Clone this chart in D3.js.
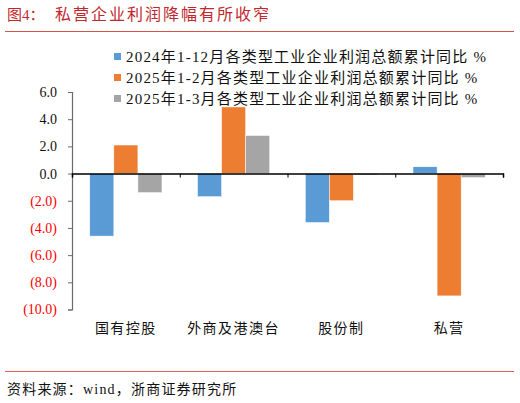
<!DOCTYPE html>
<html lang="zh">
  <head>
    <meta charset="utf-8"/>
    <title>私营企业利润降幅有所收窄</title>
    <script src="https://d3js.org/d3.v7.min.js"></script>
    <style>
      body { margin: 0; background: #fff; }
      svg text { font-family: "Liberation Serif", "Noto Sans CJK SC", serif; }
    </style>
  </head>
  <body>
    <div id="chart"></div>
<script>
  const categories = ["国有控股", "外商及港澳台", "股份制", "私营"];
  const seriesNames = [
    "2024年1-12月各类型工业企业利润总额累计同比 %",
    "2025年1-2月各类型工业企业利润总额累计同比 %",
    "2025年1-3月各类型工业企业利润总额累计同比 %"
  ];
  const fy2024 = [-4.6, -1.7, -3.6, 0.5];
  const jan2feb2025 = [2.1, 4.9, -2.0, -9.0];
  const jan3mar2025 = [-1.4, 2.8, -0.1, -0.3];
  const yTicks = [-10, -8, -6, -4, -2, 0, 2, 4, 6];
  const colors = ["#5B9BD5", "#ED7D31", "#A5A5A5"];

  const width = 520, height = 403;
  const values = [fy2024, jan2feb2025, jan3mar2025];

  const svg = d3.select("#chart").append("svg")
      .attr("width", width)
      .attr("height", height);

  // header
  svg.append("text")
      .attr("x", 7).attr("y", 20)
      .attr("fill", "#C1272D")
      .attr("font-size", 15)
      .text("图4：");
  svg.append("text")
      .attr("x", 55).attr("y", 20)
      .attr("fill", "#C1272D")
      .attr("font-size", 16)
      .attr("letter-spacing", 2)
      .text("私营企业利润降幅有所收窄");
  svg.append("line")
      .attr("x1", 5).attr("x2", 514)
      .attr("y1", 31.5).attr("y2", 31.5)
      .attr("stroke", "#D9534F").attr("stroke-width", 1);

  // legend
  const legend = svg.append("g").selectAll("g")
    .data(seriesNames)
    .join("g")
      .attr("transform", (d, i) => `translate(114, ${57 + i * 21})`);
  legend.append("rect")
      .attr("x", 0).attr("y", -4)
      .attr("width", 7).attr("height", 7)
      .attr("fill", (d, i) => colors[i]);
  legend.append("text")
      .attr("x", 12).attr("y", 5)
      .attr("font-size", 15)
      .attr("letter-spacing", 1.2)
      .attr("fill", "#111")
      .text(d => d);

  // scales
  const y = d3.scaleLinear().domain([-10, 6]).range([309.5, 92]);
  const x0 = d3.scaleBand().domain(categories).range([72, 503])
      .paddingInner(0.33).paddingOuter(0.165);
  const x1 = d3.scaleBand().domain(d3.range(3)).range([0, x0.bandwidth()]);

  // bars
  svg.append("g").selectAll("g")
    .data(categories)
    .join("g")
      .attr("transform", d => `translate(${x0(d)},0)`)
    .selectAll("rect")
    .data((c, ci) => values.map((v, si) => ({ si, v: v[ci] })))
    .join("rect")
      .attr("x", d => x1(d.si))
      .attr("width", x1.bandwidth())
      .attr("y", d => y(Math.max(0, d.v)))
      .attr("height", d => Math.abs(y(d.v) - y(0)))
      .attr("fill", d => colors[d.si])
      .attr("stroke", "#fff")
      .attr("stroke-width", 0.5);

  // y axis
  const yAxis = svg.append("g")
      .attr("transform", "translate(72,0)")
      .call(d3.axisLeft(y).tickValues(yTicks).tickSize(4).tickPadding(11)
        .tickFormat(d => d < 0 ? `(${d3.format(".1f")(-d)})` : d3.format(".1f")(d)));
  yAxis.select(".domain").attr("stroke", "#6b6b6b").attr("stroke-width", 1.2);
  yAxis.selectAll(".tick line").attr("stroke", "#6b6b6b");
  yAxis.selectAll(".tick text")
      .attr("font-size", 14)
      .attr("fill", d => d < 0 ? "#FF0000" : "#111");

  // x axis at zero
  const xTickScale = d3.scaleLinear().domain([0, categories.length]).range([72, 503]);
  const xAxis = svg.append("g")
      .attr("transform", `translate(0,${y(0)})`)
      .call(d3.axisBottom(xTickScale).ticks(categories.length).tickSize(4).tickFormat(""));
  xAxis.select(".domain").attr("stroke", "#000").attr("stroke-width", 1.5);
  xAxis.selectAll(".tick line").attr("stroke", "#000");

  // category labels
  svg.append("g").selectAll("text")
    .data(categories)
    .join("text")
      .attr("x", d => x0(d) + x0.bandwidth() / 2)
      .attr("y", 333)
      .attr("text-anchor", "middle")
      .attr("font-size", 14)
      .attr("letter-spacing", 1.5)
      .attr("fill", "#111")
      .text(d => d);

  // footer
  svg.append("line")
      .attr("x1", 5).attr("x2", 514)
      .attr("y1", 371.5).attr("y2", 371.5)
      .attr("stroke", "#E06060").attr("stroke-width", 1);
  svg.append("text")
      .attr("x", 7).attr("y", 394)
      .attr("font-size", 14)
      .attr("letter-spacing", 1.2)
      .attr("fill", "#111")
      .text("资料来源：wind，浙商证券研究所");
</script>
  </body>
</html>
